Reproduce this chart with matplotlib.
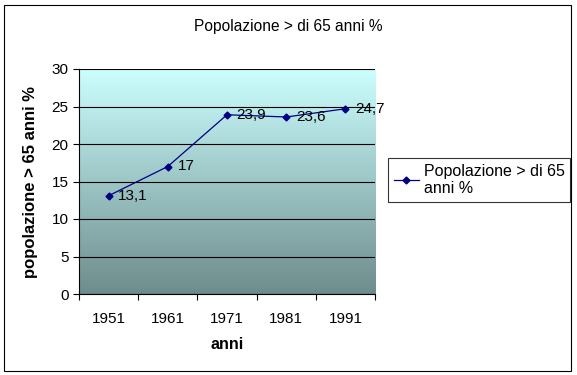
import numpy as np
import matplotlib.pyplot as plt
from matplotlib.colors import LinearSegmentedColormap
from matplotlib.patches import Rectangle

anni = ['1951', '1961', '1971', '1981', '1991']
popolazione = [13.1, 17, 23.9, 23.6, 24.7]
etichette = ['13,1', '17', '23,9', '23,6', '24,7']

plt.rcParams['font.family'] = ['Liberation Sans', 'DejaVu Sans']

fig = plt.figure(figsize=(5.77, 3.75), dpi=100)
ax = fig.add_axes([79 / 577, 81 / 375, 296 / 577, 225 / 375])

# gradient background of the plot area
cmap = LinearSegmentedColormap.from_list('bg', ['#6E8C8C', '#CCFFFF'])
grad = np.linspace(0, 1, 256).reshape(-1, 1)
ax.imshow(grad, cmap=cmap, aspect='auto', origin='lower',
          extent=[-0.5, 4.5, 0, 30], zorder=0)

x = np.arange(len(anni))
ax.plot(x, popolazione, color='#000080', marker='D', markersize=3.5,
        linewidth=0.9, zorder=3, label='Popolazione > di 65\nanni %')
for xi, yi, t in zip(x, popolazione, etichette):
    ax.annotate(t, (xi, yi), xytext=(7, 0), textcoords='offset points',
                ha='left', va='center', fontsize=11, zorder=4)

ax.set_xlim(-0.5, 4.5)
ax.set_ylim(0, 30)
ax.set_yticks(range(0, 31, 5))
ax.set_xticks(x)
ax.set_xticklabels(anni, fontsize=11)
ax.tick_params(axis='x', length=0, pad=13)
ax.set_xticks(np.arange(-0.5, 5, 1), minor=True)
ax.tick_params(axis='x', which='minor', length=4, width=0.8, direction='out')
ax.tick_params(axis='y', labelsize=11, length=4, width=0.8, direction='out')
ax.grid(axis='y', color='black', linewidth=0.8)
ax.set_axisbelow(False)
for s in ['top', 'right']:
    ax.spines[s].set_visible(False)
ax.spines['left'].set_linewidth(0.8)
ax.spines['bottom'].set_linewidth(0.8)

ax.set_xlabel('anni', fontsize=11.5, fontweight='bold', labelpad=8)
ax.set_ylabel('popolazione > 65 anni %', fontsize=12, fontweight='bold', labelpad=10)
fig.text(288 / 577, 1 - 26 / 375, 'Popolazione > di 65 anni %', ha='center',
         va='center', fontsize=11.2)

leg = ax.legend(loc='center left', bbox_to_anchor=(388 / 577, 1 - 180 / 375),
                bbox_transform=fig.transFigure, frameon=True, fancybox=False,
                fontsize=11.5, handlelength=1.6, borderpad=0.35, handletextpad=0.3,
                borderaxespad=0, labelspacing=0.2)
leg.get_frame().set_edgecolor('black')
leg.get_frame().set_linewidth(0.8)

# outer chart border
fig.patches.append(Rectangle((4 / 577, 4 / 375), 567 / 577, 366 / 375,
                             transform=fig.transFigure, fill=False,
                             edgecolor='black', linewidth=0.8))

fig.savefig('out.png', dpi=100)
